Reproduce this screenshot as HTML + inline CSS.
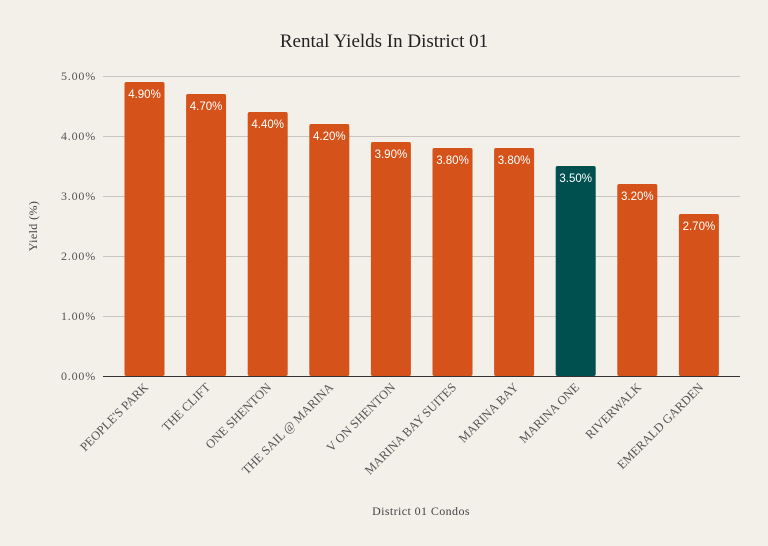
<!DOCTYPE html>
<html><head><meta charset="utf-8"><style>
html,body{margin:0;padding:0;background:#f3efe9;}
</style></head><body>
<svg width="768" height="546" xmlns="http://www.w3.org/2000/svg" style="display:block">
<rect width="768" height="546" fill="#f3efe9"/>
<text x="384" y="47" text-anchor="middle" font-family="Liberation Serif, serif" font-size="19" fill="#222">Rental Yields In District 01</text>
<g stroke="#c9c6c1" stroke-width="1">
<line x1="103" x2="740" y1="76.5" y2="76.5"/>
<line x1="103" x2="740" y1="136.5" y2="136.5"/>
<line x1="103" x2="740" y1="196.5" y2="196.5"/>
<line x1="103" x2="740" y1="256.5" y2="256.5"/>
<line x1="103" x2="740" y1="316.5" y2="316.5"/>
</g>
<g font-family="Liberation Serif, serif" font-size="12" fill="#555" text-anchor="end" letter-spacing="0.8">
<text x="96" y="80">5.00%</text>
<text x="96" y="140">4.00%</text>
<text x="96" y="200">3.00%</text>
<text x="96" y="260">2.00%</text>
<text x="96" y="320">1.00%</text>
<text x="96" y="380">0.00%</text>
</g>
<text transform="translate(37,226) rotate(-90)" text-anchor="middle" font-family="Liberation Serif, serif" font-size="12" fill="#444" letter-spacing="0.4">Yield (%)</text>
<text x="421" y="515" text-anchor="middle" font-family="Liberation Serif, serif" font-size="12" fill="#444" letter-spacing="0.4">District 01 Condos</text>
<g font-family="Liberation Sans, sans-serif" font-size="11.5" fill="#fff" text-anchor="middle">
<rect x="124.5" y="82" width="40" height="294" rx="2" fill="#d5531a"/><text x="144.5" y="98">4.90%</text>
<rect x="186.1" y="94" width="40" height="282" rx="2" fill="#d5531a"/><text x="206.1" y="110">4.70%</text>
<rect x="247.7" y="112" width="40" height="264" rx="2" fill="#d5531a"/><text x="267.7" y="128">4.40%</text>
<rect x="309.3" y="124" width="40" height="252" rx="2" fill="#d5531a"/><text x="329.3" y="140">4.20%</text>
<rect x="370.9" y="142" width="40" height="234" rx="2" fill="#d5531a"/><text x="390.9" y="158">3.90%</text>
<rect x="432.5" y="148" width="40" height="228" rx="2" fill="#d5531a"/><text x="452.5" y="164">3.80%</text>
<rect x="494.1" y="148" width="40" height="228" rx="2" fill="#d5531a"/><text x="514.1" y="164">3.80%</text>
<rect x="555.7" y="166" width="40" height="210" rx="2" fill="#005050"/><text x="575.7" y="182">3.50%</text>
<rect x="617.3" y="184" width="40" height="192" rx="2" fill="#d5531a"/><text x="637.3" y="200">3.20%</text>
<rect x="678.9" y="214" width="40" height="162" rx="2" fill="#d5531a"/><text x="698.9" y="230">2.70%</text>
</g>
<line x1="103" x2="740" y1="376.5" y2="376.5" stroke="#333" stroke-width="1"/>
<g font-family="Liberation Serif, serif" font-size="12.5" fill="#555" text-anchor="end">
<text transform="translate(149,388) rotate(-45)">PEOPLE'S PARK</text>
<text transform="translate(211,388) rotate(-45)">THE CLIFT</text>
<text transform="translate(272,388) rotate(-45)">ONE SHENTON</text>
<text transform="translate(334,388) rotate(-45)">THE SAIL @ MARINA</text>
<text transform="translate(396,388) rotate(-45)">V ON SHENTON</text>
<text transform="translate(457,388) rotate(-45)">MARINA BAY SUITES</text>
<text transform="translate(519,388) rotate(-45)">MARINA BAY</text>
<text transform="translate(580,388) rotate(-45)">MARINA ONE</text>
<text transform="translate(642,388) rotate(-45)">RIVERWALK</text>
<text transform="translate(704,388) rotate(-45)">EMERALD GARDEN</text>
</g>
</svg>
</body></html>
